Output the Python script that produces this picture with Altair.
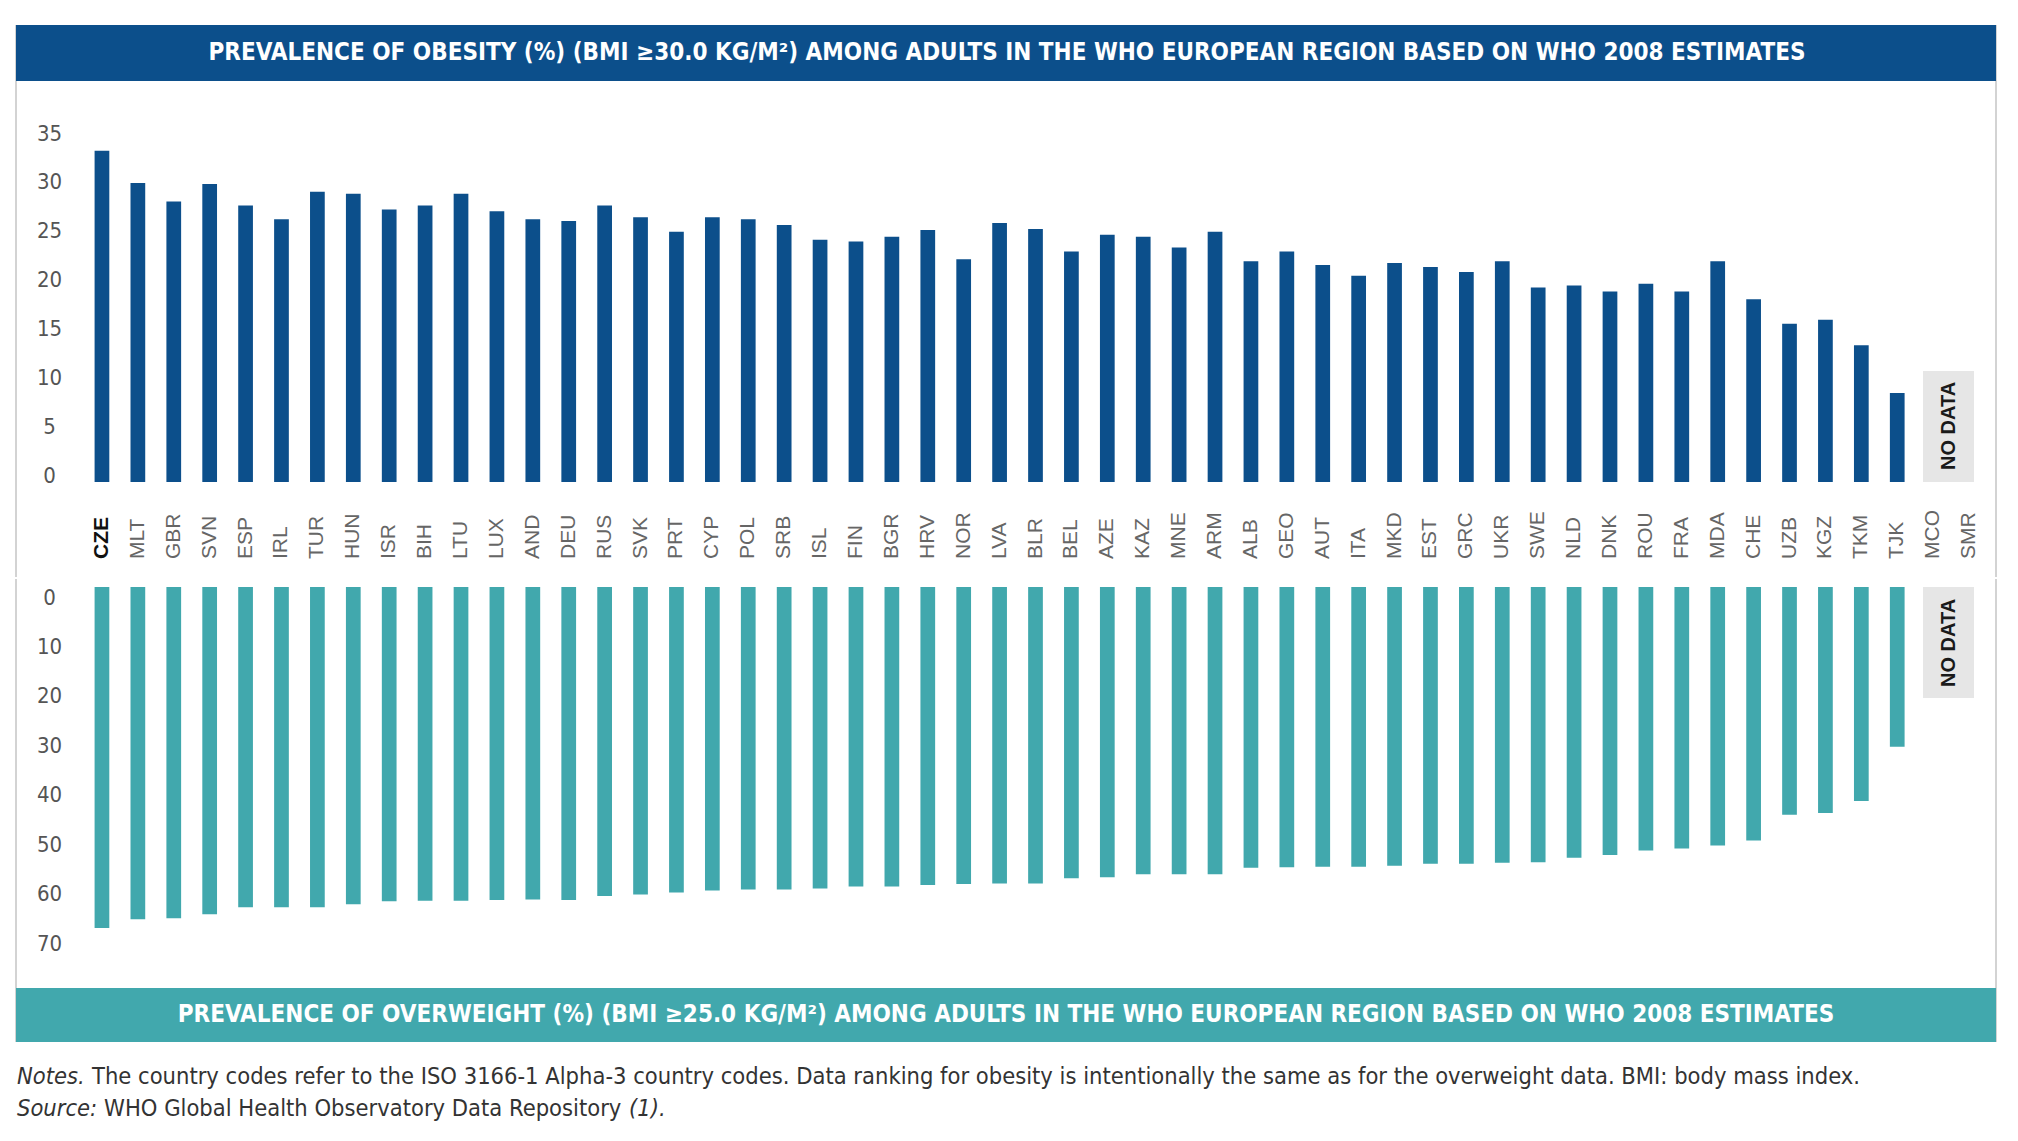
import altair as alt
import pandas as pd

countries = ["CZE", "MLT", "GBR", "SVN", "ESP", "IRL", "TUR", "HUN", "ISR", "BIH",
             "LTU", "LUX", "AND", "DEU", "RUS", "SVK", "PRT", "CYP", "POL", "SRB",
             "ISL", "FIN", "BGR", "HRV", "NOR", "LVA", "BLR", "BEL", "AZE", "KAZ",
             "MNE", "ARM", "ALB", "GEO", "AUT", "ITA", "MKD", "EST", "GRC", "UKR",
             "SWE", "NLD", "DNK", "ROU", "FRA", "MDA", "CHE", "UZB", "KGZ", "TKM",
             "TJK", "MCO", "SMR"]

obesity = [33.9, 30.6, 28.7, 30.5, 28.3, 26.9, 29.7, 29.5, 27.9, 28.3,
           29.5, 27.7, 26.9, 26.7, 28.3, 27.1, 25.6, 27.1, 26.9, 26.3,
           24.8, 24.6, 25.1, 25.8, 22.8, 26.5, 25.9, 23.6, 25.3, 25.1,
           24.0, 25.6, 22.6, 23.6, 22.2, 21.1, 22.4, 22.0, 21.5, 22.6,
           19.9, 20.1, 19.5, 20.3, 19.5, 22.6, 18.7, 16.2, 16.6, 14.0,
           9.1, None, None]

overweight = [69.0, 67.2, 67.0, 66.2, 64.8, 64.8, 64.8, 64.2, 63.6, 63.5,
              63.5, 63.3, 63.2, 63.3, 62.5, 62.2, 61.8, 61.4, 61.2, 61.2,
              61.0, 60.6, 60.6, 60.3, 60.1, 60.0, 60.0, 58.9, 58.7, 58.1,
              58.1, 58.1, 56.8, 56.7, 56.6, 56.6, 56.4, 56.0, 56.0, 55.8,
              55.7, 54.8, 54.2, 53.3, 52.9, 52.3, 51.3, 46.1, 45.7, 43.3,
              32.3, None, None]

obesity_ticks = [0, 5, 10, 15, 20, 25, 30, 35]
overweight_ticks = [0, 10, 20, 30, 40, 50, 60, 70]

title_top = "PREVALENCE OF OBESITY (%) (BMI \u226530.0 KG/M\u00b2) AMONG ADULTS IN THE WHO EUROPEAN REGION BASED ON WHO 2008 ESTIMATES"
title_bottom = "PREVALENCE OF OVERWEIGHT (%) (BMI \u226525.0 KG/M\u00b2) AMONG ADULTS IN THE WHO EUROPEAN REGION BASED ON WHO 2008 ESTIMATES"
notes_lead = "Notes."
notes_text = "The country codes refer to the ISO 3166-1 Alpha-3 country codes. Data ranking for obesity is intentionally the same as for the overweight data. BMI: body mass index."
source_lead = "Source:"
source_text = "WHO Global Health Observatory Data Repository"
source_ref = "(1)."
no_data = "NO DATA"

BLUE = "#0c4f8b"
TEAL = "#41a8ad"
NARROW = "DejaVu Sans Condensed, DejaVu Sans, sans-serif"
SANS = "Liberation Sans, Arial, Helvetica, sans-serif"

W = 1903
H1 = 342
H2 = 346
LEFT = -68
RIGHT = 1912

df = pd.DataFrame({"country": countries, "obesity": obesity, "overweight": overweight})
one = pd.DataFrame({"k": [0]})

xscale = alt.Scale(domain=countries, paddingInner=0.59, paddingOuter=0.295)
X = alt.X("country:N", sort=countries, scale=xscale, axis=None)

# ---------------- upper panel (obesity) ----------------
y_ob = alt.Y(
    "obesity:Q",
    scale=alt.Scale(domain=[0, 35], nice=False),
    axis=alt.Axis(values=obesity_ticks, title=None, domain=False, ticks=False, tickSize=0,
                  grid=False, labelAlign="center", labelBaseline="alphabetic",
                  labelPadding=35, labelFont=NARROW, labelFontSize=22, labelColor="#555555"),
)

border_top = alt.Chart(one).mark_rule(color="#c4c4c4", strokeWidth=1.5).encode(
    x=alt.value(LEFT), y=alt.value(-115), y2=alt.value(437))
border_top_r = alt.Chart(one).mark_rule(color="#c4c4c4", strokeWidth=1.5).encode(
    x=alt.value(RIGHT), y=alt.value(-115), y2=alt.value(437))
head_rect = alt.Chart(one).mark_rect(color=BLUE).encode(
    x=alt.value(LEFT), x2=alt.value(RIGHT), y=alt.value(-115), y2=alt.value(-59))
head_text = alt.Chart(one).mark_text(
    font=NARROW, fontSize=24, fontWeight="bold", color="white", align="center", baseline="middle"
).encode(x=alt.value(923), y=alt.value(-87), text=alt.value(title_top))
nd_rect1 = alt.Chart(one).mark_rect(color="#e6e6e6").encode(
    x=alt.value(1839), x2=alt.value(1890), y=alt.value(231), y2=alt.value(342))
nd_text1 = alt.Chart(one).mark_text(
    font=SANS, fontSize=20, fontWeight="bold", color="#1a1a1a", angle=270,
    align="center", baseline="middle"
).encode(x=alt.value(1865), y=alt.value(286), text=alt.value(no_data))

bars_ob = alt.Chart(df).transform_filter("isValid(datum.obesity)").mark_bar(color=BLUE).encode(
    x=X, y=y_ob)

labels = alt.Chart(df).transform_filter("datum.country != 'CZE'").mark_text(
    angle=270, align="left", baseline="middle", font=SANS, fontSize=21, color="#666666"
).encode(x=X, y=alt.value(419), text="country:N")
labels_bold = alt.Chart(df).transform_filter("datum.country == 'CZE'").mark_text(
    angle=270, align="left", baseline="middle", font=SANS, fontSize=21, fontWeight="bold",
    color="#111111"
).encode(x=X, y=alt.value(419), text="country:N")

upper = alt.layer(border_top, border_top_r, head_rect, head_text, nd_rect1, nd_text1,
                  bars_ob, labels, labels_bold).properties(
    width=W, height=H1, view=alt.ViewBackground(stroke="transparent", strokeWidth=0))

# ---------------- lower panel (overweight) ----------------
y_ow = alt.Y(
    "overweight:Q",
    scale=alt.Scale(domain=[0, 70], nice=False, reverse=True),
    axis=alt.Axis(values=overweight_ticks, title=None, domain=False, ticks=False, tickSize=0,
                  grid=False, labelAlign="center", labelBaseline="top",
                  labelPadding=35, labelFont=NARROW, labelFontSize=22, labelColor="#555555"),
)

border_bot = alt.Chart(one).mark_rule(color="#c4c4c4", strokeWidth=1.5).encode(
    x=alt.value(LEFT), y=alt.value(-8), y2=alt.value(455))
border_bot_r = alt.Chart(one).mark_rule(color="#c4c4c4", strokeWidth=1.5).encode(
    x=alt.value(RIGHT), y=alt.value(-8), y2=alt.value(455))
foot_rect = alt.Chart(one).mark_rect(color=TEAL).encode(
    x=alt.value(LEFT), x2=alt.value(RIGHT), y=alt.value(401), y2=alt.value(455))
foot_text = alt.Chart(one).mark_text(
    font=NARROW, fontSize=24, fontWeight="bold", color="white", align="center", baseline="middle"
).encode(x=alt.value(922), y=alt.value(428), text=alt.value(title_bottom))
nd_rect2 = alt.Chart(one).mark_rect(color="#e6e6e6").encode(
    x=alt.value(1839), x2=alt.value(1890), y=alt.value(0), y2=alt.value(111))
nd_text2 = alt.Chart(one).mark_text(
    font=SANS, fontSize=20, fontWeight="bold", color="#1a1a1a", angle=270,
    align="center", baseline="middle"
).encode(x=alt.value(1865), y=alt.value(56), text=alt.value(no_data))

bars_ow = alt.Chart(df).transform_filter("isValid(datum.overweight)").mark_bar(color=TEAL).encode(
    x=X, y=y_ow)

note_style = dict(font=NARROW, fontSize=23.5, color="#333333", align="left", baseline="middle")
n1 = alt.Chart(one).mark_text(fontStyle="italic", **note_style).encode(
    x=alt.value(-67), y=alt.value(490), text=alt.value(notes_lead))
n2 = alt.Chart(one).mark_text(**note_style).encode(
    x=alt.value(8), y=alt.value(490), text=alt.value(notes_text))
s1 = alt.Chart(one).mark_text(fontStyle="italic", **note_style).encode(
    x=alt.value(-67), y=alt.value(522), text=alt.value(source_lead))
s2 = alt.Chart(one).mark_text(**note_style).encode(
    x=alt.value(20), y=alt.value(522), text=alt.value(source_text))
s3 = alt.Chart(one).mark_text(fontStyle="italic", **note_style).encode(
    x=alt.value(545), y=alt.value(522), text=alt.value(source_ref))

lower = alt.layer(border_bot, border_bot_r, foot_rect, foot_text, nd_rect2, nd_text2,
                  bars_ow, n1, n2, s1, s2, s3).properties(
    width=W, height=H2, view=alt.ViewBackground(stroke="transparent", strokeWidth=0))

chart = alt.vconcat(upper, lower, spacing=0).properties(
    padding={"left": 7, "top": 16, "right": 5, "bottom": 5},
    background="white"
).configure_view(stroke="transparent", strokeWidth=0)

chart.save("out.html", embed_options={"renderer": "svg", "actions": False})
